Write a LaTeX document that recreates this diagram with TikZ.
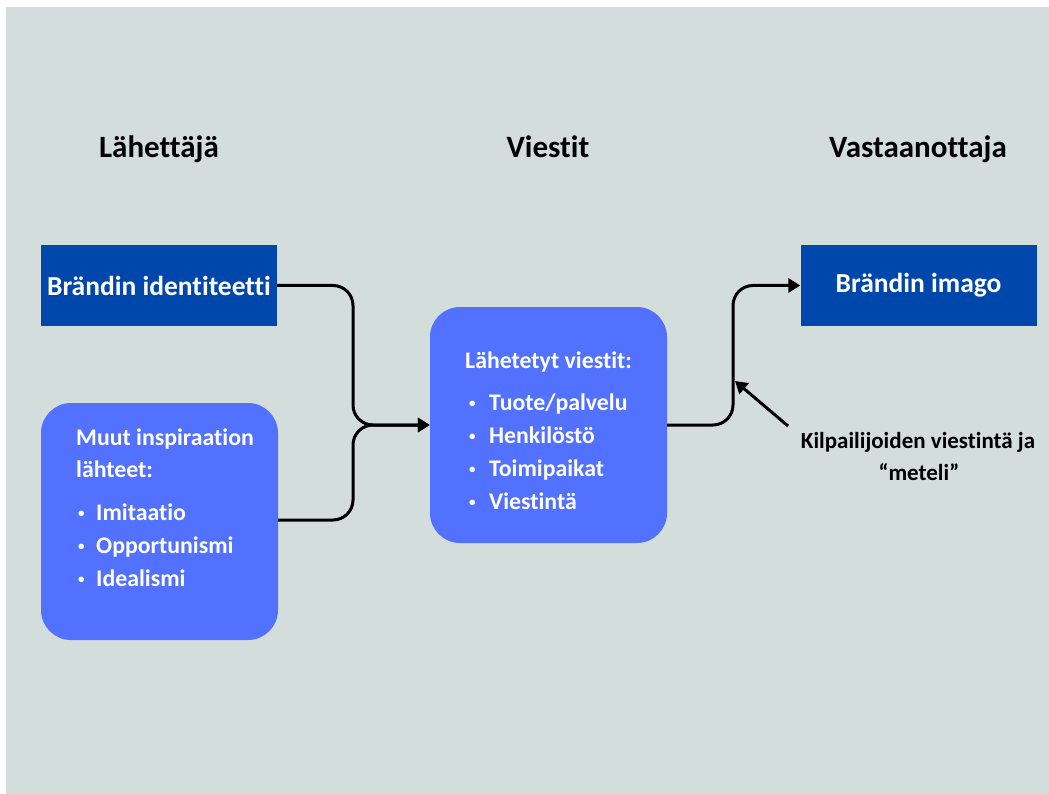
\documentclass[tikz,border=0pt]{standalone}
\usepackage{fontspec}
\setmainfont{Carlito}[Ligatures={NoCommon}]
\usetikzlibrary{arrows.meta}
\definecolor{bgcol}{HTML}{D3DDDB}
\definecolor{darkblue}{HTML}{0047AB}
\definecolor{lightblue}{HTML}{5271FF}
\newcommand{\titlefont}{\fontsize{31}{36}\selectfont\bfseries}
\newcommand{\boxfont}{\fontsize{27.5}{32}\selectfont\bfseries}
\newcommand{\listfont}{\fontsize{23.8}{32}\selectfont\bfseries}
\newcommand{\notefont}{\fontsize{23}{32}\selectfont\bfseries}
\newcommand{\smallbullet}{{\fontsize{13}{13}\selectfont\raisebox{2.5pt}{\textbullet}}}

\begin{document}
\begin{tikzpicture}[x=1pt, y=-1pt,
    title/.style = {anchor=base, font=\titlefont},
    sendbox/.style = {fill=darkblue, text=white, minimum width=236pt, minimum height=81pt, inner sep=0pt, font=\boxfont},
    roundbox/.style = {fill=lightblue, rounded corners=30pt, minimum width=237pt, minimum height=237pt, inner sep=0pt},
    line/.style = {anchor=base west, text=white, font=\listfont, inner sep=0pt},
    note/.style = {anchor=base, font=\notefont, inner sep=0pt},
    flow/.style = {line width=3pt, rounded corners=20pt, -{Triangle[length=12pt, width=14pt]}}]
    \useasboundingbox (0,0) rectangle (1049,794);
    \fill[bgcol] (6,7) rectangle (1049,794);

    % otsikot
    \node[title] (lah) at (159,158) {Lähettäjä};
    \node[title] (vie) at (548,158) {Viestit};
    \node[title] (vas) at (918,158) {Vastaanottaja};

    % laatikot
    \node[sendbox] (ident) at (159,285.5) {Brändin identiteetti};
    \node[sendbox] (imago) at (918.5,285.5) {Brändin imago};
    \node[roundbox] (inspi) at (159.5,521.5) {};
    \node[roundbox, minimum height=236pt] (viestit) at (548.5,425) {};

    % tekstit
    \node[line] (inspi1) at (76,445) {Muut inspiraation};
    \node[line] (inspi2) at (76,477) {lähteet:};
    \foreach \t [count=\i] in {Imitaatio, Opportunismi, Idealismi}
        \node[line] (inspi-\i) at (78,520+33*\i-33) {\makebox[18pt][l]{\smallbullet}\t};

    \node[line] (vies0) at (465,368) {Lähetetyt viestit:};
    \foreach \t [count=\i] in {Tuote/palvelu, Henkilöstö, Toimipaikat, Viestintä}
        \node[line] (vies-\i) at (469,410+33*\i-33) {\makebox[20pt][l]{\smallbullet}\t};

    \node[note] (kilp1) at (918,448) {Kilpailijoiden viestintä ja};
    \node[note] (kilp2) at (919,480) {“meteli”};

    % nuolet
    \coordinate (join) at (353,425);
    \coordinate (bend) at (733,425);
    \coordinate (noise) at (788,426);
    \coordinate (hit) at (735,381);
    \draw[flow] (ident.east) -| (join) -- (viestit.west);
    \draw[flow] (inspi.east |- 0,520) -| (join) -- (viestit.west);
    \draw[flow] (viestit.east) -- (bend) |- (imago.west);
    \draw[line width=3pt, -{Triangle[length=12pt, width=14pt]}] (noise) -- (hit);
\end{tikzpicture}
\end{document}
